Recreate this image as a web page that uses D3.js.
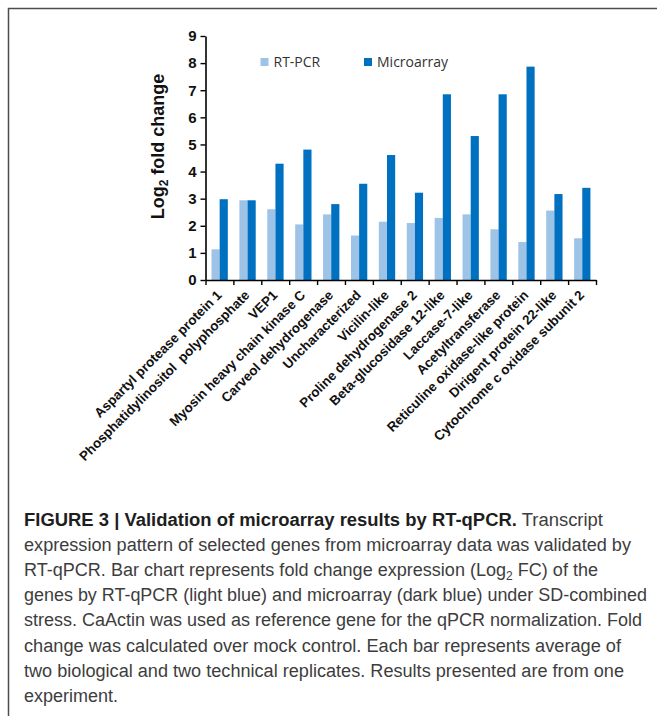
<!DOCTYPE html>
<html>
<head>
<meta charset="utf-8">
<script src="https://cdn.jsdelivr.net/npm/d3@7/dist/d3.min.js"></script>
<style>
  html, body { margin: 0; padding: 0; background: #fff; }
  svg { display: block; }
</style>
</head>
<body>
<div id="chart"></div>
<script>
// Genes validated by RT-qPCR, in plotting order
const genes = [
  "Aspartyl protease protein 1",
  "Phosphatidylinositol  polyphosphate",
  "VEP1",
  "Myosin heavy chain kinase C",
  "Carveol dehydrogenase",
  "Uncharacterized",
  "Vicilin-like",
  "Proline dehydrogenase 2",
  "Beta-glucosidase 12-like",
  "Laccase-7-like",
  "Acetyltransferase",
  "Reticuline oxidase-like protein",
  "Dirigent protein 22-like",
  "Cytochrome c oxidase subunit 2"
];

// Log2 fold change per gene
const rtpcr      = [1.13, 2.94, 2.61, 2.05, 2.42, 1.64, 2.15, 2.10, 2.29, 2.42, 1.87, 1.40, 2.56, 1.54];
const microarray = [2.98, 2.94, 4.29, 4.81, 2.80, 3.55, 4.61, 3.22, 6.85, 5.31, 6.85, 7.87, 3.17, 3.40];

const seriesNames = ["RT-PCR", "Microarray"];
const yTicks = [0, 1, 2, 3, 4, 5, 6, 7, 8, 9];

// Figure caption, one entry per printed line
const captionBold = "FIGURE 3 | Validation of microarray results by RT-qPCR.";
const captionLines = [
  " Transcript",
  "expression pattern of selected genes from microarray data was validated by",
  ["RT-qPCR. Bar chart represents fold change expression (Log", "2", " FC) of the"],
  "genes by RT-qPCR (light blue) and microarray (dark blue) under SD-combined",
  "stress. CaActin was used as reference gene for the qPCR normalization. Fold",
  "change was calculated over mock control. Each bar represents average of",
  "two biological and two technical replicates. Results presented are from one",
  "experiment."
];
// Set width of each caption line (px), so the column keeps its ragged-right shape
const captionWidths = [579, 607, 574, 623, 618, 597, 600, 94];

const W = 657, H = 716;
const colors = { "RT-PCR": "#9dc3e6", "Microarray": "#0070c0" };

const svg = d3.select("#chart").append("svg")
  .attr("width", W).attr("height", H)
  .attr("viewBox", `0 0 ${W} ${H}`);

svg.append("rect").attr("width", W).attr("height", H).attr("fill", "#fff");

// Outer figure frame (left and top edges)
svg.append("path")
  .attr("d", `M8.5,${H + 2} V8.5 H${W + 2}`)
  .attr("fill", "none").attr("stroke", "#4d4d4d").attr("stroke-width", 1.5);

const plot = { left: 205.5, right: 596, top: 36, bottom: 280 };

const x0 = d3.scaleBand().domain(genes).range([plot.left, plot.right]).padding(0);
const x1 = d3.scaleBand().domain(seriesNames)
  .range([x0.bandwidth() * 0.215, x0.bandwidth() * 0.80]).padding(0);
const y = d3.scaleLinear().domain([0, 9]).range([plot.bottom, plot.top]);

const rows = genes.map((g, i) => ({ gene: g, values: [
  { key: "RT-PCR", value: rtpcr[i] },
  { key: "Microarray", value: microarray[i] }
]}));

// Bars
const groups = svg.append("g").selectAll("g").data(rows).join("g")
  .attr("transform", d => `translate(${x0(d.gene)},0)`);
groups.selectAll("rect").data(d => d.values).join("rect")
  .attr("x", d => x1(d.key))
  .attr("width", x1.bandwidth())
  .attr("y", d => y(d.value))
  .attr("height", d => y(0) - y(d.value))
  .attr("fill", d => colors[d.key]);

// Y axis
const yAxis = svg.append("g")
  .attr("transform", `translate(${plot.left},0)`)
  .call(d3.axisLeft(y).tickValues(yTicks).tickFormat(d3.format("d"))
    .tickSize(5).tickSizeOuter(0).tickPadding(4));
yAxis.select(".domain").attr("stroke", "#000").attr("stroke-width", 1.6);
yAxis.selectAll(".tick line").attr("stroke", "#000").attr("stroke-width", 1.4);
yAxis.selectAll(".tick text")
  .attr("font-family", "'Liberation Sans', Arial, sans-serif")
  .attr("font-weight", "bold").attr("font-size", 15).attr("fill", "#111");

// X axis: tick marks at category boundaries
const xb = d3.scaleLinear().domain([0, genes.length]).range([plot.left, plot.right]);
const xAxis = svg.append("g")
  .attr("transform", `translate(0,${plot.bottom})`)
  .call(d3.axisBottom(xb).tickValues(d3.range(genes.length + 1)).tickFormat("")
    .tickSize(5).tickSizeOuter(0));
xAxis.select(".domain").attr("stroke", "#000").attr("stroke-width", 1.6);
xAxis.selectAll(".tick line").attr("stroke", "#000").attr("stroke-width", 1.4);

// Rotated gene labels
svg.append("g").selectAll("text").data(genes).join("text")
  .attr("transform", d => `translate(${x0(d) + x0.bandwidth() / 2 + 3},${plot.bottom + 16}) rotate(-45)`)
  .attr("text-anchor", "end")
  .attr("font-family", "'Liberation Sans', Arial, sans-serif")
  .attr("font-weight", "bold").attr("font-size", 13.4).attr("fill", "#111")
  .attr("xml:space", "preserve")
  .style("white-space", "pre")
  .text(d => d);

// Y axis title
const yTitle = svg.append("text")
  .attr("transform", `translate(164,${(73 + 220) / 2}) rotate(-90)`)
  .attr("text-anchor", "middle")
  .attr("font-family", "'Liberation Sans', Arial, sans-serif")
  .attr("font-weight", "bold").attr("font-size", 18).attr("fill", "#111");
yTitle.append("tspan").text("Log");
yTitle.append("tspan").attr("font-size", 12).attr("dy", 4).text("2");
yTitle.append("tspan").attr("dy", -4).text(" fold change");

// Legend
const legendX = [260.5, 364];
const legend = svg.append("g").selectAll("g").data(seriesNames).join("g")
  .attr("transform", (d, i) => `translate(${legendX[i]},62)`);
legend.append("rect").attr("x", 0).attr("y", -4).attr("width", 8).attr("height", 8)
  .attr("fill", d => colors[d]);
legend.append("text").attr("x", 13).attr("dy", "0.36em")
  .attr("font-family", "'Open Sans', sans-serif").attr("font-size", 14)
  .attr("fill", "#333").text(d => d);

// Caption
const capFont = "'Liberation Sans', Arial, sans-serif";
const cap = svg.append("g").attr("font-family", capFont).attr("font-size", 18).attr("fill", "#3d3d3d");
const capX = 24, capY0 = 526, capDY = 25.1;
captionLines.forEach((line, i) => {
  const t = cap.append("text").attr("x", capX).attr("y", capY0 + i * capDY)
    .attr("xml:space", "preserve")
    .attr("textLength", captionWidths[i])
    .attr("lengthAdjust", "spacingAndGlyphs");
  if (i === 0) {
    t.append("tspan").attr("font-weight", "bold").attr("fill", "#1e1e1e").text(captionBold);
    t.append("tspan").text(line);
  } else if (Array.isArray(line)) {
    t.append("tspan").text(line[0]);
    t.append("tspan").attr("font-size", 12).attr("dy", 4).text(line[1]);
    t.append("tspan").attr("dy", -4).text(line[2]);
  } else {
    t.text(line);
  }
});
</script>
</body>
</html>
